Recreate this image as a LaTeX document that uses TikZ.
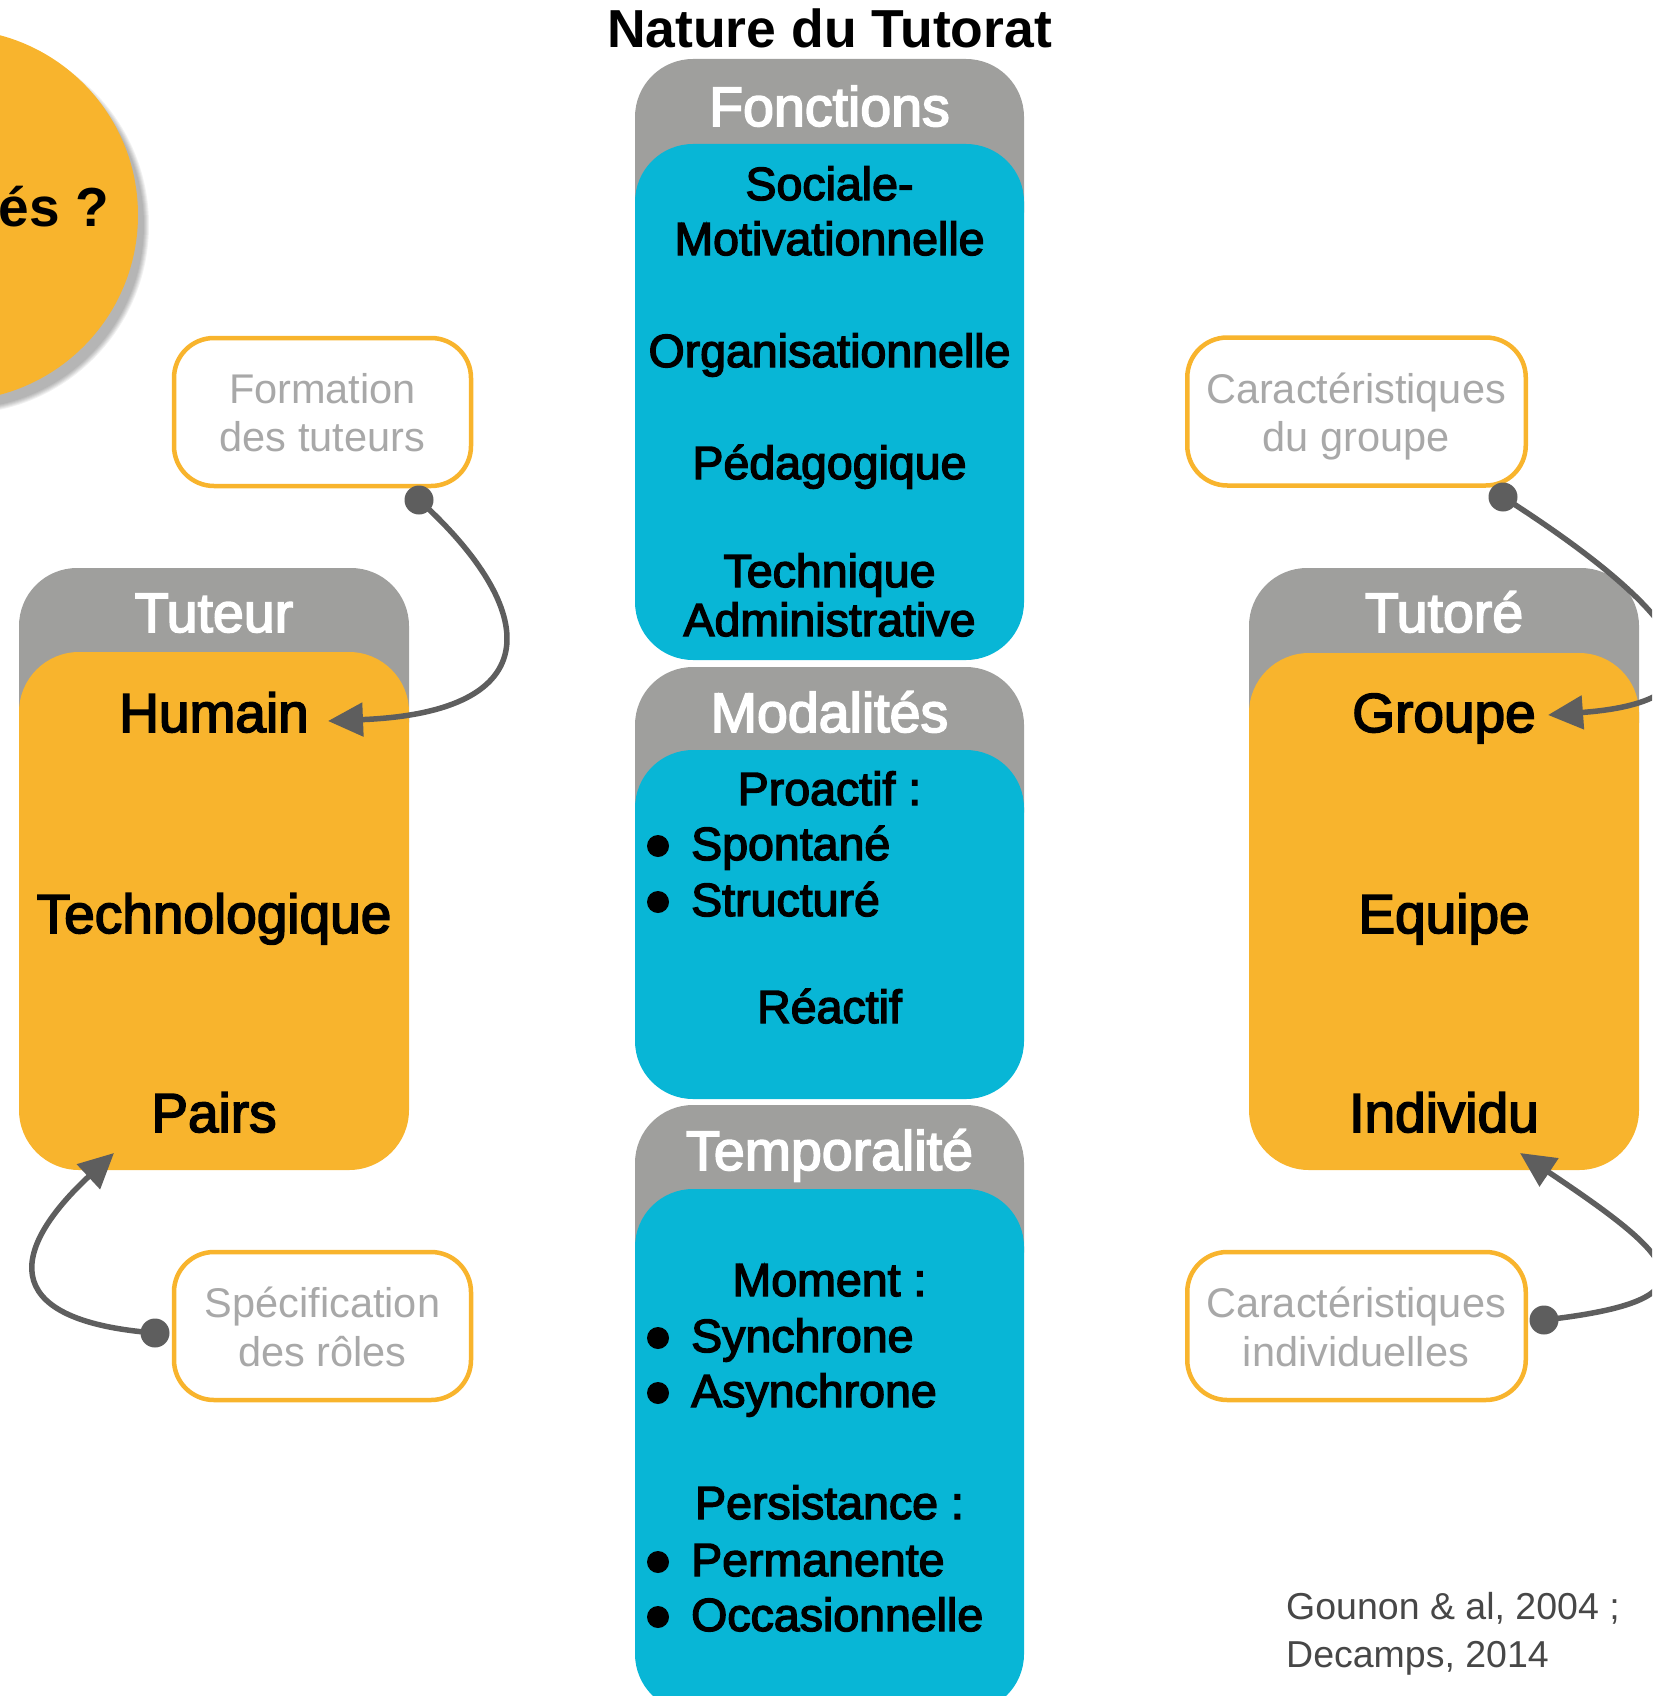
\documentclass[tikz,border=0pt]{standalone}
\usepackage{fontspec}
\setmainfont{Liberation Sans}
\newfontfamily\medf[FakeBold=3]{Liberation Sans}
\usetikzlibrary{arrows.meta}
\definecolor{orng}{HTML}{F8B42D}
\definecolor{cyanb}{HTML}{08B6D6}
\definecolor{headg}{HTML}{9F9F9D}
\definecolor{conng}{HTML}{5E5E5E}
\definecolor{boxtxt}{HTML}{A8A8A8}
\definecolor{reftxt}{HTML}{474747}
\begin{document}
\begin{tikzpicture}[x=1pt,y=-1pt,
  head/.style={fill=headg, rounded corners=58pt},
  cbody/.style={fill=cyanb, rounded corners=58pt},
  obody/.style={fill=orng, rounded corners=60pt},
  htxt/.style={anchor=base, text=white, inner sep=0pt, font=\medf\fontsize{55.5}{60}\selectfont},
  itxt/.style={anchor=base, inner sep=0pt, font=\medf\fontsize{46.5}{52}\selectfont},
  ltxt/.style={anchor=base west, inner sep=0pt, font=\medf\fontsize{46.5}{52}\selectfont},
  otxt/.style={anchor=base, inner sep=0pt, font=\medf\fontsize{55}{60}\selectfont},
  smallbox/.style={draw=orng, line width=4.5pt, rounded corners=40pt, fill=white, minimum height=148pt, inner sep=0pt},
  stxt/.style={anchor=base, inner sep=0pt, text=boxtxt, font=\fontsize{41.5}{48}\selectfont},
  conn/.style={draw=conng, line width=5.5pt, -{Triangle[length=35pt,width=33pt]}},
  bul/.style={circle, fill=black, minimum size=22pt, inner sep=0pt},
  dotst/.style={fill=conng}
]
\useasboundingbox (0,0) rectangle (1652,1696);
\clip (0,0) rectangle (1652,1696);

% circle with soft shadow
\foreach \k in {0,...,5} {
  \fill[black, opacity=0.055] (-40,225) circle ({186+3-\k});
}
\node[circle, fill=orng, minimum size=372pt, inner sep=0pt] (qcirc) at (-48,215) {};
\node[anchor=base east, inner sep=0pt, font=\bfseries\fontsize{55}{60}\selectfont] (qtext) at (109,227) {és ?};

% title
\node[anchor=base, inner sep=0pt, font=\bfseries\fontsize{53.5}{60}\selectfont] (title) at (829.5,48) {Nature du Tutorat};

% middle column boxes
\fill[head] (635,59) rectangle (1024,270);
\fill[cbody] (635,144) rectangle (1024,660);
\fill[head] (635,667) rectangle (1024,870);
\fill[cbody] (635,750) rectangle (1024,1099);
\fill[head] (635,1105) rectangle (1024,1310);
\fill[cbody] (635,1189) rectangle (1024,1712);

\node[htxt] (fonc) at (829.5,126) {Fonctions};
\node[itxt] (f1) at (829.5,200) {Sociale-};
\node[itxt] (f2) at (829.5,255) {Motivationnelle};
\node[itxt] (f3) at (829.5,367) {Organisationnelle};
\node[itxt] (f4) at (829.5,479) {Pédagogique};
\node[itxt] (f5) at (829.5,587) {Technique};
\node[itxt] (f6) at (829.5,636) {Administrative};

\node[htxt] (moda) at (829.5,732) {Modalités};
\node[itxt] (m1) at (829.5,805) {Proactif :};
\node[bul] (b1) at (658,846) {};
\node[ltxt] (m2) at (691,860) {Spontané};
\node[bul] (b2) at (658,902) {};
\node[ltxt] (m3) at (691,916) {Structuré};
\node[itxt] (m4) at (829.5,1023) {Réactif};

\node[htxt] (temp) at (829.5,1170) {Temporalité};
\node[itxt] (t1) at (829.5,1296) {Moment :};
\node[bul] (b3) at (658,1338) {};
\node[ltxt] (t2) at (691,1352) {Synchrone};
\node[bul] (b4) at (658,1393) {};
\node[ltxt] (t3) at (691,1407) {Asynchrone};
\node[itxt] (t4) at (829.5,1519) {Persistance :};
\node[bul] (b5) at (658,1562) {};
\node[ltxt] (t5) at (691,1576) {Permanente};
\node[bul] (b6) at (658,1617) {};
\node[ltxt] (t6) at (691,1631) {Occasionnelle};

% Tuteur
\fill[head] (19,568) rectangle (409,780);
\fill[obody] (19,652) rectangle (409,1170);
\node[htxt] (tuteur) at (214,632) {Tuteur};
\node[otxt] (humain) at (214,732) {Humain};
\node[otxt] (techno) at (214,933) {Technologique};
\node[otxt] (pairs) at (214,1132) {Pairs};

% Tutoré
\fill[head] (1249,568) rectangle (1639,780);
\fill[obody] (1249,653) rectangle (1639,1170);
\node[htxt] (tutore) at (1444,632) {Tutoré};
\node[otxt] (groupe) at (1444,732) {Groupe};
\node[otxt] (equipe) at (1444,933) {Equipe};
\node[otxt] (indiv) at (1444,1132) {Individu};

% small boxes
\node[smallbox, minimum width=297pt] (form) at (322.5,412) {};
\node[stxt] (form1) at (322.5,403) {Formation};
\node[stxt] (form2) at (322.5,451) {des tuteurs};
\node[smallbox, minimum width=297pt] (spec) at (322.5,1326) {};
\node[stxt] (spec1) at (322.5,1317) {Spécification};
\node[stxt] (spec2) at (322.5,1366) {des rôles};
\node[smallbox, minimum width=338.5pt] (cgr) at (1356.5,411.5) {};
\node[stxt] (cgr1) at (1356,403) {Caractéristiques};
\node[stxt] (cgr2) at (1356,451) {du groupe};
\node[smallbox, minimum width=338.5pt] (cin) at (1356.5,1326) {};
\node[stxt] (cin1) at (1356,1317) {Caractéristiques};
\node[stxt] (cin2) at (1356,1366) {individuelles};

% reference
\node[anchor=base west, inner sep=0pt, text=reftxt, font=\fontsize{37.5}{46}\selectfont] (ref1) at (1286,1619) {Gounon \& al, 2004 ;};
\node[anchor=base west, inner sep=0pt, text=reftxt, font=\fontsize{37.5}{46}\selectfont] (ref2) at (1286,1667) {Decamps, 2014};

% connectors
\coordinate (fdot) at (419,500);
\coordinate (htip) at (328,721);
\coordinate (sdot) at (155,1333);
\coordinate (ptip) at (114,1153);
\coordinate (gdot) at (1503,497);
\coordinate (gtip) at (1548,715);
\coordinate (idot) at (1544,1320);
\coordinate (itip) at (1520,1153);

\draw[conn] (fdot) .. controls (540,610) and (550,712) .. (htip);
\draw[conn] (sdot) .. controls (-10,1320) and (15,1245) .. (ptip);
\draw[conn] (gdot) .. controls (1680,610) and (1750,700) .. (gtip);
\draw[conn] (idot) .. controls (1720,1300) and (1680,1260) .. (itip);
\fill[dotst] (fdot) circle (14.5);
\fill[dotst] (sdot) circle (14.5);
\fill[dotst] (gdot) circle (14.5);
\fill[dotst] (idot) circle (14.5);
\end{tikzpicture}
\end{document}
